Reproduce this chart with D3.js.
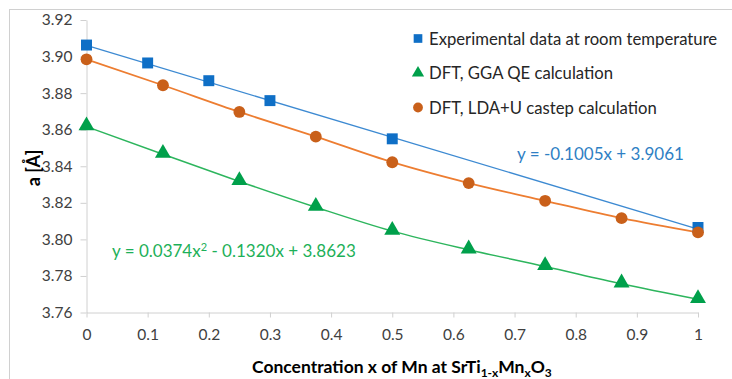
<!DOCTYPE html>
<html><head><meta charset="utf-8">
<script src="https://cdn.jsdelivr.net/npm/d3@7"></script>
<style>body{margin:0;background:#fff}svg{display:block}text{font-family:Lato,"Open Sans",sans-serif}</style>
</head><body><svg id="c" width="732" height="379"></svg>
<script>
const xTicks = [0,0.1,0.2,0.3,0.4,0.5,0.6,0.7,0.8,0.9,1];
const xTickLabels = ["0","0.1","0.2","0.3","0.4","0.5","0.6","0.7","0.8","0.9","1"];
const yTicks = [3.76,3.78,3.80,3.82,3.84,3.86,3.88,3.90,3.92];
const yTickLabels = ["3.76","3.78","3.80","3.82","3.84","3.86","3.88","3.90","3.92"];
const seriesNames = ["Experimental data at room temperature","DFT, GGA QE calculation","DFT, LDA+U castep calculation"];
const expX = [0,0.1,0.2,0.3,0.5,1];
const expY = [3.9063,3.8965,3.8868,3.8759,3.855,3.8065];
const expTrendX = [0,1];
const expTrendY = [3.9061,3.8056];
const ggaX = [0,0.125,0.25,0.375,0.5,0.625,0.75,0.875,1];
const ggaY = [3.8617,3.8466,3.8317,3.8176,3.8045,3.7943,3.7852,3.7757,3.7672];
const ldaX = [0,0.125,0.25,0.375,0.5,0.625,0.75,0.875,1];
const ldaY = [3.8985,3.8843,3.8697,3.8562,3.8422,3.8308,3.8211,3.8116,3.8038];
const eqBlue = "y = -0.1005x + 3.9061";
const eqGreen = ["y = 0.0374x","2"," - 0.1320x + 3.8623"];

const svg = d3.select("#c");
const x = d3.scaleLinear().domain([0,1]).range([86.5,698]);
const y = d3.scaleLinear().domain([3.76,3.92]).range([312.5,20]);

svg.append("rect").attr("x",9.5).attr("y",9.5).attr("width",800).attr("height",400)
  .attr("fill","none").attr("stroke","#d0d0d0");

const xAxis = svg.append("g").attr("transform","translate(0,312.5)")
  .call(d3.axisBottom(x).tickValues(xTicks).tickFormat((d,i)=>xTickLabels[i]).tickSize(5).tickSizeOuter(0));
const yAxis = svg.append("g").attr("transform","translate(86.5,0)")
  .call(d3.axisLeft(y).tickValues(yTicks).tickFormat((d,i)=>yTickLabels[i]).tickSize(6).tickSizeOuter(0));
[xAxis,yAxis].forEach(a=>{
  a.selectAll("path,line").attr("stroke","#d0d0d0");
  a.selectAll("text").attr("fill","#404040").style("font-size","15.5px").style("font-family","Lato,'Open Sans',sans-serif");
});
xAxis.selectAll("text").attr("y",14).attr("dy","0.9em");
yAxis.selectAll("text").attr("x",-14);

const line = d3.line().x(d=>x(d[0])).y(d=>y(d[1]));
const zip = (a,b)=>a.map((v,i)=>[v,b[i]]);

svg.append("path").datum(zip(expTrendX,expTrendY)).attr("d",line)
  .attr("fill","none").attr("stroke","#3d8ad2").attr("stroke-width",1.3);
svg.append("path").datum(zip(ldaX,ldaY)).attr("d",line.curve(d3.curveMonotoneX))
  .attr("fill","none").attr("stroke","#ed7d31").attr("stroke-width",1.8);
svg.append("path").datum(zip(ggaX,ggaY)).attr("d",line.curve(d3.curveMonotoneX))
  .attr("fill","none").attr("stroke","#2db55d").attr("stroke-width",1.5);

const sq = d3.symbol().type(d3.symbolSquare).size(120);
const tri = d3.symbol().type(d3.symbolTriangle).size(110);
const cir = d3.symbol().type(d3.symbolCircle).size(110);

svg.append("g").selectAll("path").data(zip(expX,expY)).join("path")
  .attr("d",sq).attr("transform",d=>`translate(${x(d[0])},${y(d[1])})`).attr("fill","#0f6fc6");
svg.append("g").selectAll("path").data(zip(ggaX,ggaY)).join("path")
  .attr("d",tri).attr("transform",d=>`translate(${x(d[0])},${y(d[1])-1})`).attr("fill","#00a04b");
svg.append("g").selectAll("path").data(zip(ldaX,ldaY)).join("path")
  .attr("d",cir).attr("transform",d=>`translate(${x(d[0])},${y(d[1])})`).attr("fill","#c9601a");

// legend
const legSyms = [[sq,"#0f6fc6",75],[tri,"#00a04b",65],[cir,"#c9601a",75]];
const legY = [38.5,73,107.5];
seriesNames.forEach((n,i)=>{
  svg.append("path").attr("d",legSyms[i][0].size(legSyms[i][2])()).attr("fill",legSyms[i][1])
    .attr("transform",`translate(418,${legY[i]})`);
  svg.append("text").attr("x",429).attr("y",legY[i]+6).text(n)
    .attr("fill","#262626").style("font-size","16.7px");
});

svg.append("text").attr("x",517).attr("y",160).text(eqBlue).attr("fill","#2f7fc4").style("font-size","17px");
const g = svg.append("text").attr("x",112).attr("y",257).attr("fill","#1db058").style("font-size","17px");
g.append("tspan").text(eqGreen[0]);
g.append("tspan").text(eqGreen[1]).attr("dy",-6).style("font-size","11px");
g.append("tspan").text(eqGreen[2]).attr("dy",6);

// axis titles
const xt = svg.append("text").attr("x",252).attr("y",373).attr("fill","#000").style("font-size","17.5px").style("font-weight","bold");
xt.append("tspan").text("Concentration x of Mn at SrTi");
xt.append("tspan").text("1-x").attr("dy",4).style("font-size","12px");
xt.append("tspan").text("Mn").attr("dy",-4);
xt.append("tspan").text("x").attr("dy",4).style("font-size","12px");
xt.append("tspan").text("O").attr("dy",-4);
xt.append("tspan").text("3").attr("dy",4).style("font-size","12px");

svg.append("text").attr("transform","translate(40,168) rotate(-90)").attr("text-anchor","middle")
  .text("a [Å]").attr("fill","#000").style("font-size","18px").style("font-weight","bold");
</script></body></html>
